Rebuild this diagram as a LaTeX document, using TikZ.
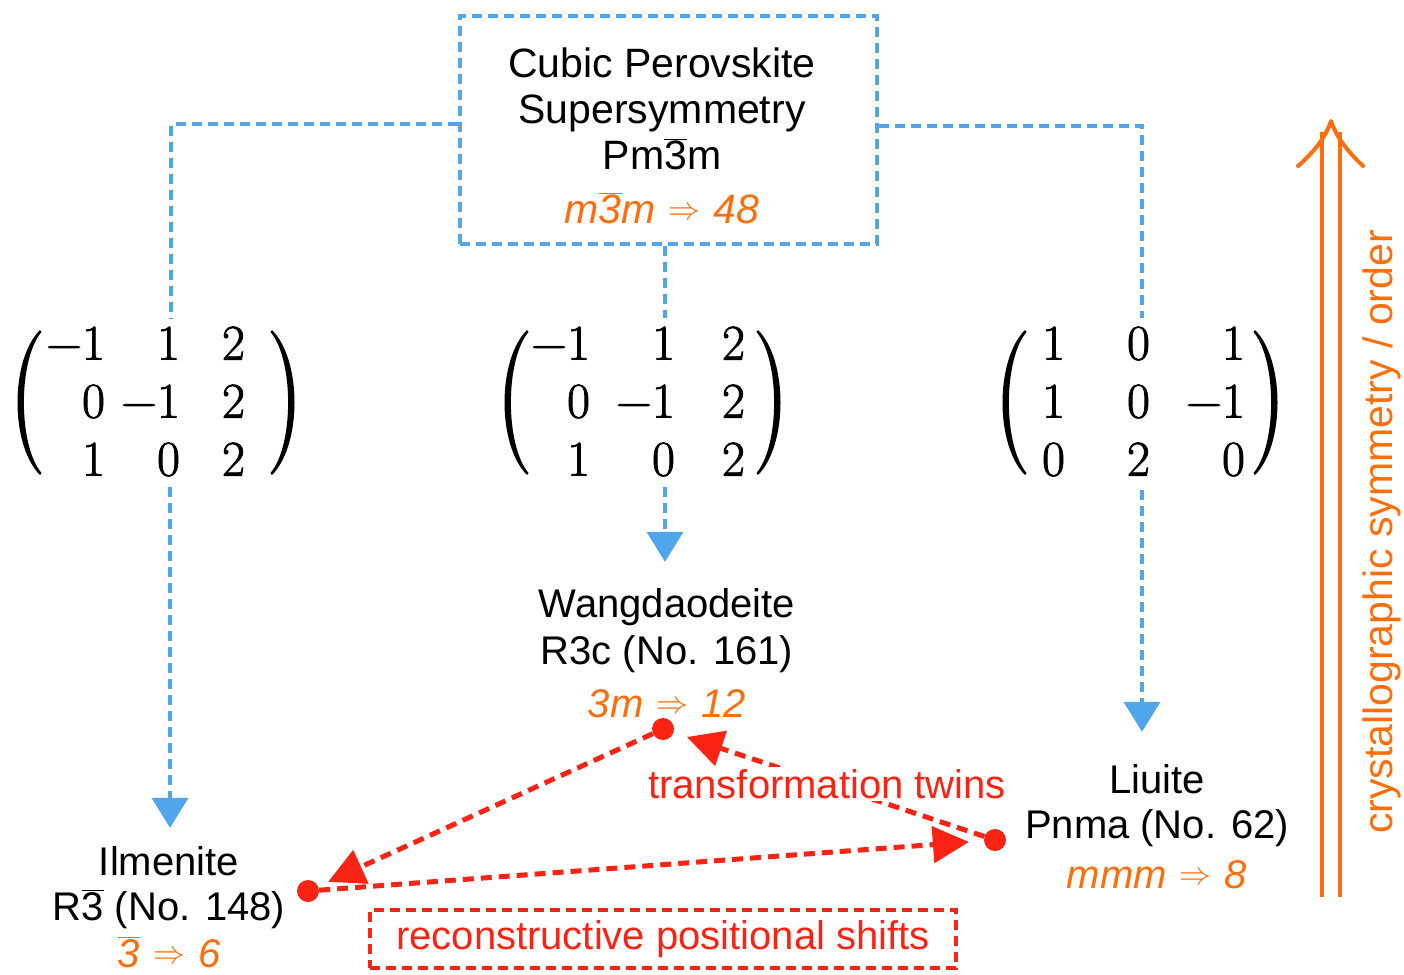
\RequirePackage{fix-cm}
\documentclass[tikz,border=0pt]{standalone}
\usepackage{fontspec}
\setmainfont{Liberation Sans}
\newfontfamily\matfont{Latin Modern Roman}[FakeBold=1.6]
\usetikzlibrary{arrows.meta}
\definecolor{lblue}{RGB}{80,165,235}
\definecolor{orng}{RGB}{255,110,10}
\definecolor{rred}{RGB}{250,35,20}
\newcommand{\ovb}[1]{$\overline{\hbox{#1}}$}
\newcommand{\imp}{\hspace{13pt}\raisebox{4pt}{\fontsize{32}{34}\selectfont$\Rightarrow$}\hspace{13pt}}
\newcommand{\mrow}[6]{\makebox[#1pt][r]{#4}\makebox[#2pt][r]{#5}\makebox[#3pt][r]{#6}}
\begin{document}
\begin{tikzpicture}[x=1pt,y=-1pt,
  sans/.style={font=\fontsize{40}{46}\selectfont, align=center, inner sep=0pt},
  mat/.style={inner sep=0pt, font=\matfont\fontsize{50}{58}\selectfont},
  bline/.style={draw=lblue, line width=4pt, dash pattern=on 10pt off 6pt},
  barrow/.style={bline, -{Triangle[width=36pt,length=30pt]}},
  rline/.style={draw=rred, line width=5pt, dash pattern=on 11pt off 7pt},
  rarrow/.style={rline, -{Triangle[width=36pt,length=36pt]}},
  dot/.style={circle, fill=rred, inner sep=0pt, minimum size=22pt},
  orngline/.style={draw=orng, line width=4pt},
  lpar/.pic={\fill (0,-72) .. controls (-30,-42) and (-30,43) .. (0,73) -- (1.5,71) .. controls (-22,43) and (-22,-42) .. (1.5,-70) -- cycle;},
  rpar/.pic={\fill (0,-72) .. controls (30,-42) and (30,43) .. (0,73) -- (-1.5,71) .. controls (22,43) and (22,-42) .. (-1.5,-70) -- cycle;},
]
\fill[white] (0,0) rectangle (1404,974);
\useasboundingbox (0,0) rectangle (1404,974);

% top box
\node[inner sep=0pt, font=\fontsize{41}{46}\selectfont, draw=lblue, line width=4pt, dash pattern=on 10pt off 6pt,
      minimum width=417pt, minimum height=228pt] (box) at (668,130)
  {\begin{tabular}{@{}c@{\hspace{12pt}}}\rule{0pt}{55pt}Cubic Perovskite\\Supersymmetry\\Pm\ovb{3}m\\[8pt]{\color{orng}\itshape m\ovb{3}m\imp 48}\end{tabular}};

% matrices (entries) and their brackets
\node[mat] (m1) at (143.5,406) {\begin{tabular}{@{}l@{}}
  \mrow{63}{75}{65}{−1}{1}{2}\\ \mrow{63}{75}{65}{0}{−1}{2}\\ \mrow{63}{75}{65}{1}{0}{2}\end{tabular}};
\node[mat] (m2) at (637.5,406) {\begin{tabular}{@{}l@{}}
  \mrow{60}{85}{70}{−1}{1}{2}\\ \mrow{60}{85}{70}{0}{−1}{2}\\ \mrow{60}{85}{70}{1}{0}{2}\end{tabular}};
\node[mat] (m3) at (1136,406) {\begin{tabular}{@{}l@{}}
  \mrow{38}{85}{95}{1}{0}{1}\\ \mrow{38}{85}{95}{1}{0}{−1}\\ \mrow{38}{85}{95}{0}{2}{0}\end{tabular}};
\pic at (40,402) {lpar};   \pic at (272,402) {rpar};
\pic at (527,402) {lpar};  \pic at (758,402) {rpar};
\pic at (1025,402) {lpar}; \pic at (1255,402) {rpar};

\coordinate (m1t) at (171,318); \coordinate (m1b) at (170,487);
\coordinate (m2t) at (665,318); \coordinate (m2b) at (665,487);
\coordinate (m3t) at (1142,318); \coordinate (m3b) at (1142,490);

% phase labels (base = last line)
\node[sans, anchor=base, font=\fontsize{40}{45}\selectfont] (ilm) at (169,967)
  {Ilmenite\\R\ovb{3} (No. 148)\\[2pt]{\color{orng}\itshape\ovb{3}\imp 6}};
\node[sans, anchor=base, font=\fontsize{40}{47}\selectfont] (wd) at (667,717)
  {Wangdaodeite\\R3c (No. 161)\\[6pt]{\color{orng}\itshape 3m\imp 12}};
\node[sans, anchor=base, font=\fontsize{40}{45}\selectfont] (liu) at (1157,888)
  {Liuite\\Pnma (No. 62)\\[5pt]{\color{orng}\itshape mmm\imp 8}};

% blue connectors
\draw[bline] ([yshift=6pt]box.west) -| (m1t);
\draw[bline] (m2t |- box.south) -- (m2t);
\draw[bline] ([yshift=4pt]box.east) -| (m3t);
\draw[barrow, shorten >=18pt] (m1b) -- (m1b |- ilm.north);
\draw[barrow, shorten >=26pt] (m2b) -- (m2b |- wd.north);
\draw[barrow, shorten >=32pt] (m3b) -- (m3b |- liu.north);

% red dots and arrows
\node[dot] (dw) at (663,729) {};
\node[dot] (di) at (308,891) {};
\node[dot] (dl) at (995,840) {};
\draw[rarrow, shorten >=11pt] (dw) -- (di);
\draw[rarrow, shorten >=15pt] (di) -- (dl);
\draw[rarrow, shorten >=14pt] (dl) -- (dw);
\node[sans, text=rred, fill=white, inner sep=2pt] (tt) at (827,784) {transformation twins};
\node[sans, text=rred, draw=rred, line width=4pt, dash pattern=on 10pt off 6pt,
      minimum width=586pt, minimum height=58pt] (rps) at (663,939) {reconstructive positional shifts};

% symmetry axis arrow
\draw[orngline] (1322,897) -- (1322,132);
\draw[orngline] (1340,897) -- (1340,132);
\draw[orngline, line cap=round, line join=round] (1298,166) .. controls (1316,150) and (1326,136) .. (1331,121) .. controls (1336,136) and (1346,150) .. (1363,166);
\node[rotate=90, text=orng, inner sep=0pt, font=\fontsize{41}{43}\selectfont] (ax) at (1382,532) {crystallographic symmetry / order};
\end{tikzpicture}
\end{document}
